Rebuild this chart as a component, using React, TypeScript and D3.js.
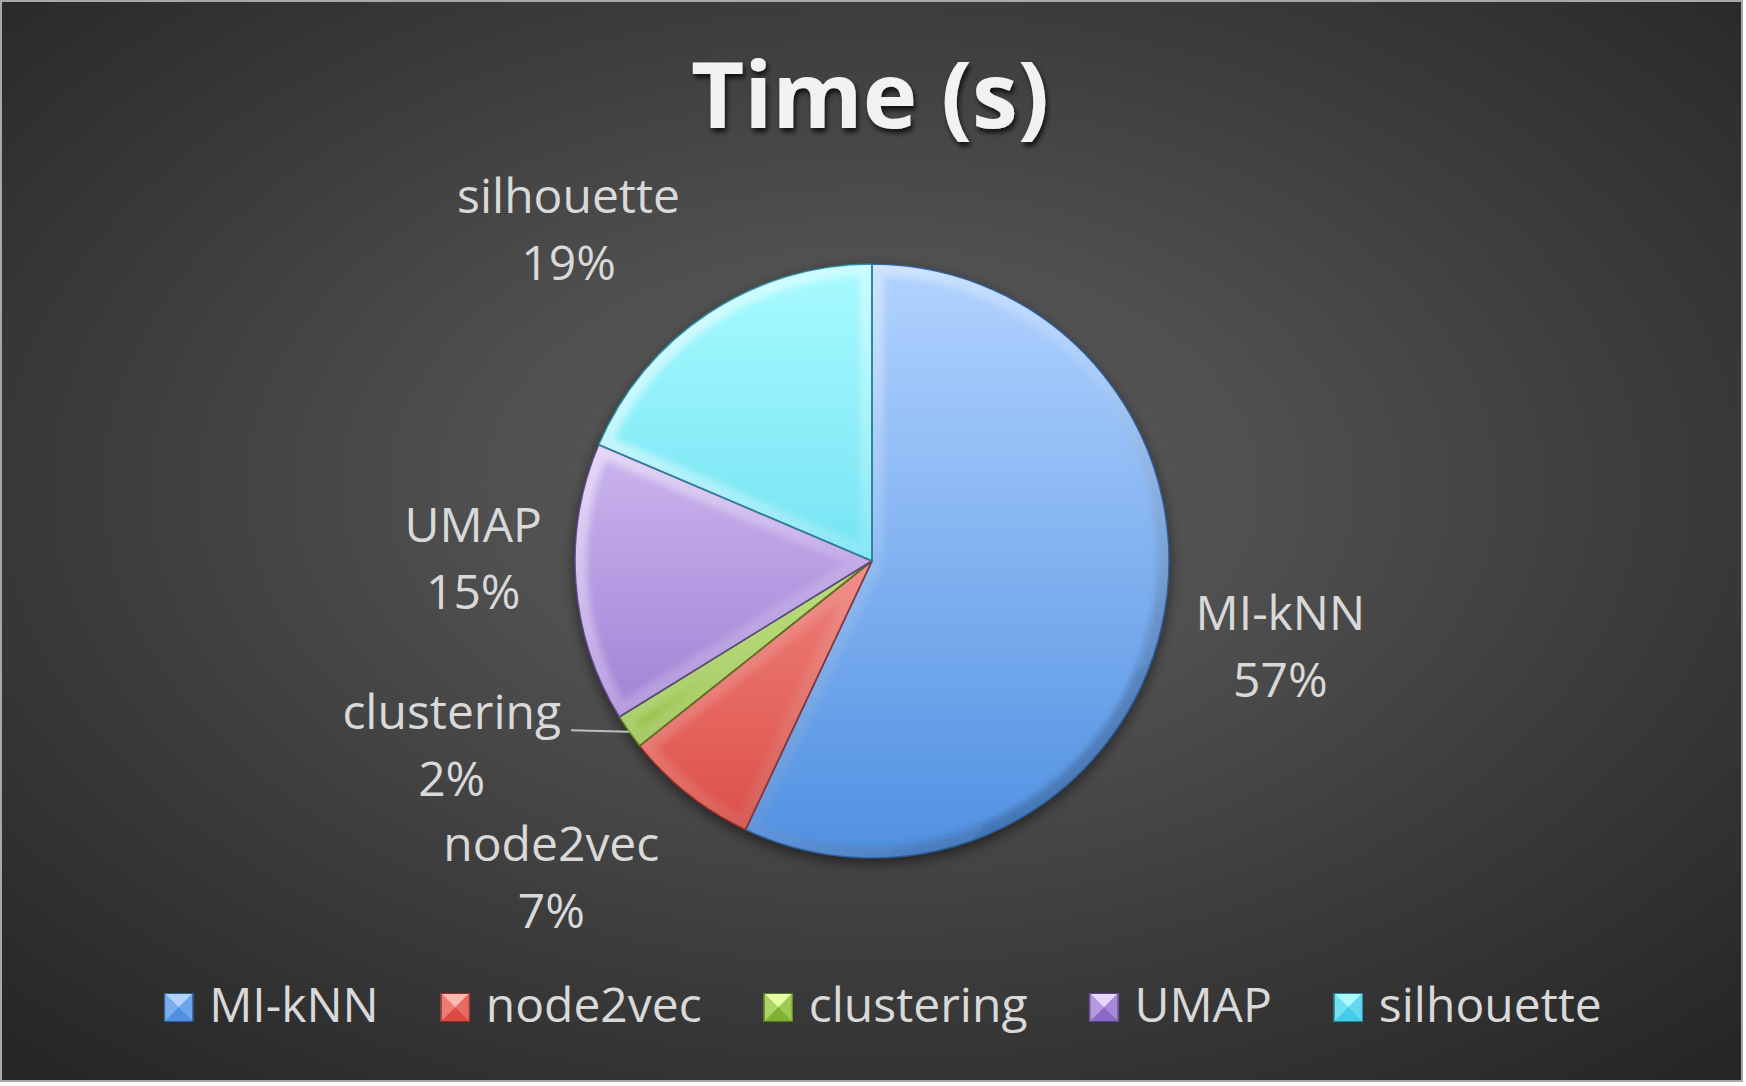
import React, { useEffect, useRef } from "react";
import * as d3 from "d3";

const W = 1746;
const H = 1086;

const title = "Time (s)";
const categories = ["MI-kNN", "node2vec", "clustering", "UMAP", "silhouette"];
const values = [57.0, 7.3, 1.9, 15.2, 18.6];

const lightColors = ["#b2d3ff", "#ffb8b0", "#e4ffa0", "#e8d6ff", "#a8fbff"];
const darkColors = ["#5090e2", "#dc4a44", "#80b232", "#8c68c8", "#44cbe8"];
const edgeColors = ["#2d5c9a", "#962c28", "#587820", "#5c428c", "#28869c"];

// label placement (polar, relative to slice mid angle)
const labelAngleShiftDeg = [1.5, 5.5, 9.5, 2.2, -10.5];
const labelDistance = [421, 463, 466, 399, 437];

export default function App() {
  const ref = useRef<SVGSVGElement | null>(null);

  useEffect(() => {
    const draw = () => {
      const svg = d3.select(ref.current);
      svg.selectAll("*").remove();
      const defs = svg.append("defs");

      const cx = 872;
      const cy = 561;
      const r = 297;

      // background
      const bg = defs
        .append("radialGradient")
        .attr("id", "bg")
        .attr("cx", "50%")
        .attr("cy", "45%")
        .attr("r", "72%");
      bg.append("stop").attr("offset", 0).attr("stop-color", "#595959");
      bg.append("stop").attr("offset", 0.3).attr("stop-color", "#505050");
      bg.append("stop").attr("offset", 0.62).attr("stop-color", "#3c3c3c");
      bg.append("stop").attr("offset", 1).attr("stop-color", "#262626");

      svg.append("rect").attr("width", W).attr("height", H).attr("fill", "#ffffff");
      svg
        .append("rect")
        .attr("x", 1)
        .attr("y", 1)
        .attr("width", 1741)
        .attr("height", 1080)
        .attr("fill", "url(#bg)")
        .attr("stroke", "#a8a8a8")
        .attr("stroke-width", 2);

      // filters
      const ts = defs.append("filter").attr("id", "titleShadow").attr("x", "-10%").attr("y", "-20%").attr("width", "120%").attr("height", "150%");
      ts.append("feDropShadow").attr("dx", 2).attr("dy", 4).attr("stdDeviation", 2.5).attr("flood-color", "#000").attr("flood-opacity", 0.75);

      const ps = defs.append("filter").attr("id", "pieShadow").attr("x", "-20%").attr("y", "-20%").attr("width", "140%").attr("height", "140%");
      ps.append("feDropShadow").attr("dx", 0).attr("dy", 5).attr("stdDeviation", 7).attr("flood-color", "#000").attr("flood-opacity", 0.55);

      const blur = defs.append("filter").attr("id", "soft").attr("x", "-20%").attr("y", "-20%").attr("width", "140%").attr("height", "140%");
      blur.append("feGaussianBlur").attr("stdDeviation", 3);

      // title
      svg
        .append("text")
        .attr("x", 870)
        .attr("y", 128)
        .attr("text-anchor", "middle")
        .attr("font-family", "'Open Sans', sans-serif")
        .attr("font-weight", 700)
        .attr("font-size", 92)
        .attr("fill", "#f2f2f2")
        .attr("filter", "url(#titleShadow)")
        .text(title);

      const pie = d3.pie<number>().sort(null).value((d) => d)(values);
      const arc = d3.arc<d3.PieArcDatum<number>>().innerRadius(0).outerRadius(r);
      const total = d3.sum(values);

      // slice gradients (local coords, pie centred at 0,0)
      categories.forEach((_, i) => {
        const g = defs
          .append("linearGradient")
          .attr("id", `sg${i}`)
          .attr("gradientUnits", "userSpaceOnUse")
          .attr("x1", 0)
          .attr("y1", -r)
          .attr("x2", 0)
          .attr("y2", r);
        g.append("stop").attr("offset", 0).attr("stop-color", lightColors[i]);
        g.append("stop").attr("offset", 1).attr("stop-color", darkColors[i]);
      });

      const bev = defs
        .append("linearGradient")
        .attr("id", "bevel")
        .attr("gradientUnits", "userSpaceOnUse")
        .attr("x1", -r * 0.7)
        .attr("y1", -r * 0.7)
        .attr("x2", r * 0.7)
        .attr("y2", r * 0.7);
      bev.append("stop").attr("offset", 0).attr("stop-color", "#ffffff").attr("stop-opacity", 0.5);
      bev.append("stop").attr("offset", 0.5).attr("stop-color", "#ffffff").attr("stop-opacity", 0.12);
      bev.append("stop").attr("offset", 1).attr("stop-color", "#000000").attr("stop-opacity", 0.2);

      const pieG = svg.append("g").attr("transform", `translate(${cx},${cy})`);

      // shadow base
      pieG
        .append("circle")
        .attr("r", r)
        .attr("fill", "#333")
        .attr("filter", "url(#pieShadow)");

      pie.forEach((d, i) => {
        const path = arc(d) as string;
        defs
          .append("clipPath")
          .attr("id", `clip${i}`)
          .append("path")
          .attr("d", path);

        pieG.append("path").attr("d", path).attr("fill", `url(#sg${i})`);
      });

      // bevel overlays (clipped to each slice)
      pie.forEach((d, i) => {
        const path = arc(d) as string;
        pieG
          .append("g")
          .attr("clip-path", `url(#clip${i})`)
          .append("path")
          .attr("d", path)
          .attr("fill", "none")
          .attr("stroke", "url(#bevel)")
          .attr("stroke-width", 24)
          .attr("stroke-linejoin", "round")
          .attr("filter", "url(#soft)");
      });

      // edges
      pie.forEach((d, i) => {
        pieG
          .append("path")
          .attr("d", arc(d) as string)
          .attr("fill", "none")
          .attr("stroke", edgeColors[i])
          .attr("stroke-opacity", 0.9)
          .attr("stroke-width", 1.6)
          .attr("stroke-linejoin", "round");
      });

      // labels
      const lg = svg
        .append("g")
        .attr("font-family", "'Open Sans', sans-serif")
        .attr("font-size", 48)
        .attr("fill", "#d9d9d9")
        .attr("text-anchor", "middle");

      pie.forEach((d, i) => {
        const mid = (d.startAngle + d.endAngle) / 2;
        const a = mid + (labelAngleShiftDeg[i] * Math.PI) / 180;
        const dist = labelDistance[i];
        const lx = cx + dist * Math.sin(a);
        const ly = cy - dist * Math.cos(a);
        const pct = Math.round((values[i] / total) * 100);
        const t1 = lg
          .append("text")
          .attr("x", lx)
          .attr("y", ly - 33.5)
          .text(categories[i]);
        lg.append("text")
          .attr("x", lx)
          .attr("y", ly + 33.5)
          .text(`${pct}%`);

        if ((values[i] / total) * 100 < 3) {
          const tw = (t1.node() as SVGTextElement).getComputedTextLength();
          const ex = cx + r * Math.sin(mid);
          const ey = cy - r * Math.cos(mid);
          svg
            .append("line")
            .attr("x1", lx + tw / 2 + 10)
            .attr("y1", ly - 32)
            .attr("x2", ex)
            .attr("y2", ey)
            .attr("stroke", "#bfbfbf")
            .attr("stroke-width", 2);
        }
      });

      // legend
      const legG = svg
        .append("g")
        .attr("font-family", "'Open Sans', sans-serif")
        .attr("font-size", 48)
        .attr("fill", "#d9d9d9");
      const sq = 29;
      const gapSq = 16;
      const gapItem = 62;
      const baseline = 1022;
      const texts = categories.map((c) => legG.append("text").attr("y", baseline).text(c));
      const widths = texts.map((t) => (t.node() as SVGTextElement).getComputedTextLength());
      const totalW = d3.sum(widths) + categories.length * (sq + gapSq) + (categories.length - 1) * gapItem;
      let x = 883 - totalW / 2;
      categories.forEach((_, i) => {
        const y0 = baseline - sq;
        const x0 = x;
        const mx = x0 + sq / 2;
        const my = y0 + sq / 2;
        legG.append("rect").attr("x", x0).attr("y", y0).attr("width", sq).attr("height", sq).attr("fill", darkColors[i]);
        legG
          .append("path")
          .attr("d", `M${x0},${y0}L${x0 + sq},${y0}L${mx},${my}Z`)
          .attr("fill", lightColors[i]);
        legG
          .append("path")
          .attr("d", `M${x0},${y0}L${mx},${my}L${x0},${y0 + sq}Z`)
          .attr("fill", d3.interpolateRgb(lightColors[i], darkColors[i])(0.55));
        legG
          .append("path")
          .attr("d", `M${x0 + sq},${y0}L${mx},${my}L${x0 + sq},${y0 + sq}Z`)
          .attr("fill", d3.interpolateRgb(lightColors[i], darkColors[i])(0.7));
        legG
          .append("path")
          .attr("d", `M${x0},${y0 + sq}L${mx},${my}L${x0 + sq},${y0 + sq}Z`)
          .attr("fill", darkColors[i]);
        legG
          .append("rect")
          .attr("x", x0 + 0.5)
          .attr("y", y0 + 0.5)
          .attr("width", sq - 1)
          .attr("height", sq - 1)
          .attr("fill", "none")
          .attr("stroke", edgeColors[i])
          .attr("stroke-width", 1);
        texts[i].attr("x", x0 + sq + gapSq).raise();
        x += sq + gapSq + widths[i] + gapItem;
      });
    };

    if ((document as any).fonts && (document as any).fonts.ready) {
      (document as any).fonts.ready.then(draw);
    }
    draw();
  }, []);

  return (
    <svg
      ref={ref}
      width={W}
      height={H}
      style={{ position: "absolute", left: 0, top: 0, display: "block" }}
    />
  );
}
